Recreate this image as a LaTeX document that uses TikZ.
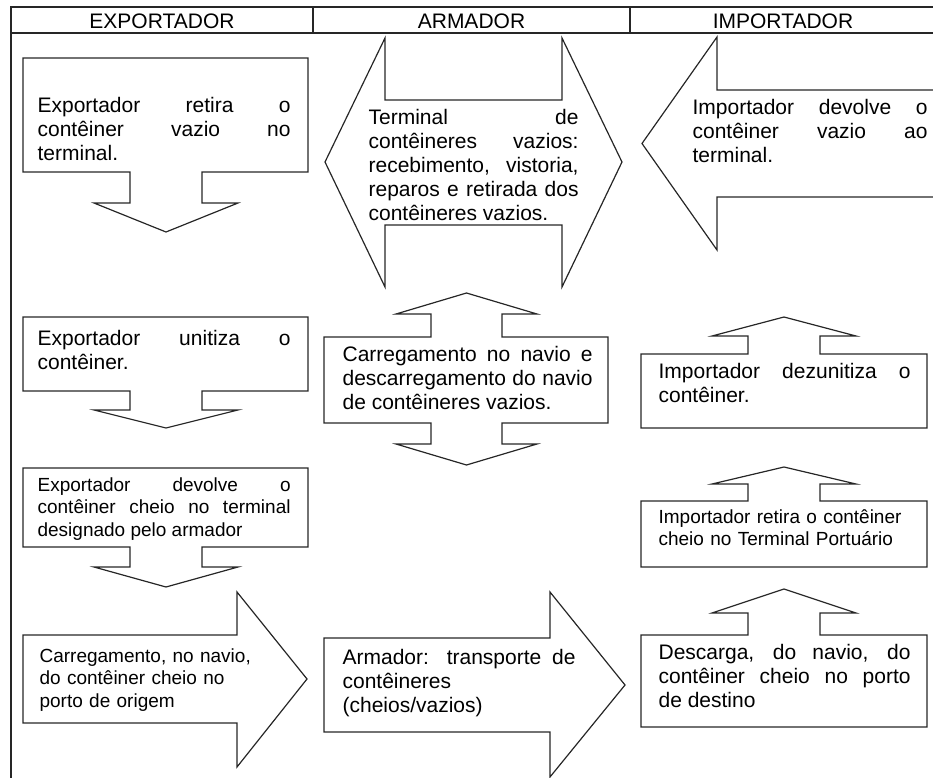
\documentclass[tikz,border=0pt]{standalone}
\usepackage{fontspec}
\setmainfont{Liberation Sans}
\usepackage{tikz}
\tolerance=10000
\hbadness=10000
\tikzset{every picture/.style={line width=0.9pt}}

\begin{document}
\begin{tikzpicture}[x=0.75pt,y=-0.75pt,
  shp/.style={draw=black!85},
  hd/.style={inner sep=0pt,font=\fontsize{15.75}{18}\selectfont},
  txt/.style={anchor=base west,inner sep=0pt,align=justify,font=\fontsize{15.75}{18}\selectfont},
  txts/.style={txt,font=\fontsize{14.25}{17}\selectfont}]
\clip (0,0) rectangle (933,778);
% table frame
\draw[shp] (11,778) -- (11,7) -- (945,7);
\draw[shp] (11,33) -- (945,33);
\draw[shp] (313,7) -- (313,33);
\draw[shp] (630,7) -- (630,33);
\node (hexp) at (162,21) [hd] {EXPORTADOR};
\node (harm) at (471.5,21) [hd] {ARMADOR};
\node (himp) at (783,21) [hd] {IMPORTADOR};
% exportador
\draw[shp] (23,58) -- (308,58) -- (308,172) -- (202,172) -- (202,203) -- (238,203) -- (166,232) -- (94,203) -- (130,203) -- (130,172) -- (23,172) -- cycle;
\draw[shp] (23,317) -- (308,317) -- (308,391) -- (202,391) -- (202,410) -- (238,410) -- (166,428) -- (94,410) -- (130,410) -- (130,391) -- (23,391) -- cycle;
\draw[shp] (23,468) -- (308,468) -- (308,547) -- (202,547) -- (202,567) -- (238,567) -- (166,587) -- (94,567) -- (130,567) -- (130,547) -- (23,547) -- cycle;
\draw[shp] (23,635) -- (237,635) -- (237,592) -- (307,679) -- (237,767) -- (237,723) -- (23,723) -- cycle;
\node (e1) at (37,112) [txt, text width=189.75pt] {Exportador retira o\linebreak contêiner vazio no\linebreak terminal.};
\node (e2) at (37,345) [txt, text width=189.75pt] {Exportador unitiza o\linebreak contêiner.};
\node (e3) at (37,491) [txts, text width=189.75pt] {Exportador devolve o\linebreak contêiner cheio no terminal\linebreak designado pelo armador};
\node (e4) at (39,662) [txts, text width=180pt, align=left] {Carregamento, no navio,\\do contêiner cheio no\\porto de origem};
% armador
\draw[shp] (385,100) -- (385,38) -- (325,162) -- (385,287) -- (385,225) -- (562,225) -- (562,287) -- (622,162) -- (562,38) -- (562,100) -- cycle;
\draw[shp] (324,337) -- (431,337) -- (431,314) -- (396,314) -- (466.5,293) -- (537,314) -- (502,314) -- (502,337) -- (608,337) -- (608,423) -- (502,423) -- (502,444) -- (537,444) -- (466.5,465) -- (396,444) -- (431,444) -- (431,423) -- (324,423) -- cycle;
\draw[shp] (324,638) -- (550,638) -- (550,592) -- (625,685) -- (550,777) -- (550,732) -- (324,732) -- cycle;
\node (a1) at (368,124) [txt, text width=157.5pt] {Terminal de\linebreak contêineres vazios:\linebreak recebimento, vistoria,\linebreak reparos e retirada dos\linebreak contêineres vazios.};
\node (a2) at (342,361) [txt, text width=187.5pt] {Carregamento no navio e\linebreak descarregamento do navio\linebreak de contêineres vazios.};
\node (a3) at (342,664) [txt, text width=174.75pt] {Armador: transporte de\linebreak contêineres\\(cheios/vazios)};
% importador
\draw[shp] (945,90) -- (717,90) -- (717,37) -- (642,143.5) -- (717,250) -- (717,197) -- (945,197);
\draw[shp] (641,354) -- (748,354) -- (748,336) -- (712,336) -- (784,317) -- (856,336) -- (820,336) -- (820,354) -- (927,354) -- (927,428) -- (641,428) -- cycle;
\draw[shp] (641,501) -- (748,501) -- (748,484) -- (712,484) -- (784,467) -- (856,484) -- (820,484) -- (820,501) -- (927,501) -- (927,567) -- (641,567) -- cycle;
\draw[shp] (641,635) -- (748,635) -- (748,613) -- (712,613) -- (784,589) -- (856,613) -- (820,613) -- (820,635) -- (927,635) -- (927,727) -- (641,727) -- cycle;
\node (i1) at (692,114) [txt, text width=176.25pt] {Importador devolve o\linebreak contêiner vazio ao\linebreak terminal.};
\node (i2) at (658,378) [txt, text width=189pt] {Importador dezunitiza o\linebreak contêiner.};
\node (i3) at (658,523) [txts, text width=189pt, align=left] {Importador retira o contêiner\\cheio no Terminal Portuário};
\node (i4) at (658,659) [txt, text width=189pt] {Descarga, do navio, do\linebreak contêiner cheio no porto\linebreak de destino};
\end{tikzpicture}
\end{document}
